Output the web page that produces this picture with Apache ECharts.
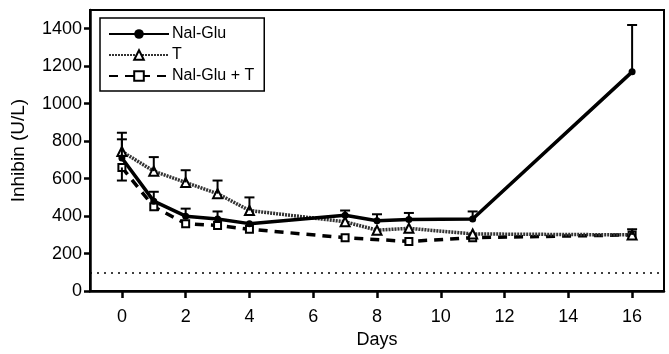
<!DOCTYPE html>
<html>
<head>
<meta charset="utf-8">
<script src="https://cdn.jsdelivr.net/npm/echarts@6/dist/echarts.min.js"></script>
<style>
  html, body { margin: 0; padding: 0; background: #fff; }
  #chart { width: 669px; height: 354px; }
</style>
</head>
<body>
<div id="chart"></div>
<script>
// days sampled for each group
const daysNalGlu = [0, 1, 2, 3, 4, 7, 8, 9, 11, 16];
const nalGlu = [710, 480, 400, 385, 360, 405, 375, 382, 385, 1170];
const nalGluErr = [100, 50, 40, 40, 0, 25, 35, 35, 40, 250];

const daysT = [0, 1, 2, 3, 4, 7, 8, 9, 11, 16];
const tOnly = [745, 640, 580, 520, 430, 370, 325, 335, 305, 300];
const tErr = [100, 75, 65, 70, 70, 0, 0, 0, 0, 30];

const daysCombo = [0, 1, 2, 3, 4, 7, 9, 11, 16];
const combo = [660, 450, 360, 350, 330, 285, 265, 285, 300];
const comboErr = [-70, 0, 0, 0, 0, 0, 0, 0, 0];

const xTicks = [0, 2, 4, 6, 8, 10, 12, 14, 16];
const yTicks = [0, 200, 400, 600, 800, 1000, 1200, 1400];
const detectionLimit = 100;

const font = "'Liberation Sans', Arial, sans-serif";

function pairs(xs, ys) {
  return xs.map((d, i) => [d, ys[i]]);
}

function errData(xs, ys, es) {
  return xs.map((d, i) => [d, ys[i], ys[i] + es[i]]).filter(r => r[2] !== r[1]);
}

function errBars(params, api) {
  const p0 = api.coord([api.value(0), api.value(1)]);
  const p1 = api.coord([api.value(0), api.value(2)]);
  const cap = 5;
  const style = { stroke: '#000', lineWidth: 2 };
  return {
    type: 'group',
    children: [
      { type: 'line', shape: { x1: p0[0], y1: p0[1], x2: p1[0], y2: p1[1] }, style: style },
      { type: 'line', shape: { x1: p1[0] - cap, y1: p1[1], x2: p1[0] + cap, y2: p1[1] }, style: style }
    ]
  };
}

const chart = echarts.init(document.getElementById('chart'));

const option = {
  animation: false,
  textStyle: { fontFamily: font },
  grid: {
    left: 90, right: 5, top: 10, bottom: 61,
    show: true, borderColor: '#000', borderWidth: 2
  },
  legend: {
    orient: 'vertical',
    left: 100, top: 18,
    padding: [8, 10, 7, 8],
    itemWidth: 60, itemHeight: 12, itemGap: 5,
    borderColor: '#000', borderWidth: 1.5,
    backgroundColor: '#fff',
    data: ['Nal-Glu', 'T', 'Nal-Glu + T'],
    textStyle: { fontSize: 16, color: '#000', padding: [0, 0, 0, -2] }
  },
  xAxis: {
    type: 'value',
    min: -1, max: 17,
    name: 'Days',
    nameLocation: 'middle',
    nameGap: 38,
    nameTextStyle: { fontSize: 18, color: '#000' },
    splitLine: { show: false },
    axisLine: { onZero: false, lineStyle: { color: '#000', width: 2.5 } },
    axisTick: { customValues: xTicks, length: 7, lineStyle: { color: '#000', width: 2.5 } },
    axisLabel: { customValues: xTicks, margin: 17, fontSize: 18, color: '#000' }
  },
  yAxis: {
    type: 'value',
    min: 0, max: 1500,
    name: 'Inhibin (U/L)',
    nameLocation: 'middle',
    nameGap: 62,
    nameTextStyle: { fontSize: 19, color: '#000' },
    splitLine: { show: false },
    axisLine: { show: true, onZero: false, lineStyle: { color: '#000', width: 2.5 } },
    axisTick: { customValues: yTicks, length: 6, lineStyle: { color: '#000', width: 2.5 } },
    axisLabel: {
      customValues: yTicks, margin: 8, fontSize: 18, color: '#000',
      formatter: v => String(v)
    }
  },
  series: [
    {
      name: 'Nal-Glu',
      type: 'line',
      data: pairs(daysNalGlu, nalGlu),
      symbol: 'circle', symbolSize: 7,
      itemStyle: { color: '#000' },
      lineStyle: { color: '#000', width: 3.5 },
      z: 4,
      markLine: {
        silent: true,
        symbol: 'none',
        label: { show: false },
        lineStyle: { color: '#000', type: [2, 5], width: 1.5 },
        data: [{ yAxis: detectionLimit }]
      }
    },
    {
      name: 'T',
      type: 'line',
      data: pairs(daysT, tOnly),
      symbol: 'triangle', symbolSize: 9,
      itemStyle: { color: '#fff', borderColor: '#000', borderWidth: 2 },
      lineStyle: { color: '#333', width: 3.5, type: [2, 1] },
      z: 3
    },
    {
      name: 'Nal-Glu + T',
      type: 'line',
      data: pairs(daysCombo, combo),
      symbol: 'rect', symbolSize: 7,
      itemStyle: { color: '#fff', borderColor: '#000', borderWidth: 2 },
      lineStyle: { color: '#000', width: 3.5, type: [9, 7] },
      z: 2
    },
    { type: 'custom', renderItem: errBars, data: errData(daysNalGlu, nalGlu, nalGluErr), z: 5 },
    { type: 'custom', renderItem: errBars, data: errData(daysT, tOnly, tErr), z: 5 },
    { type: 'custom', renderItem: errBars, data: errData(daysCombo, combo, comboErr), z: 5 }
  ]
};

chart.setOption(option);
</script>
</body>
</html>
